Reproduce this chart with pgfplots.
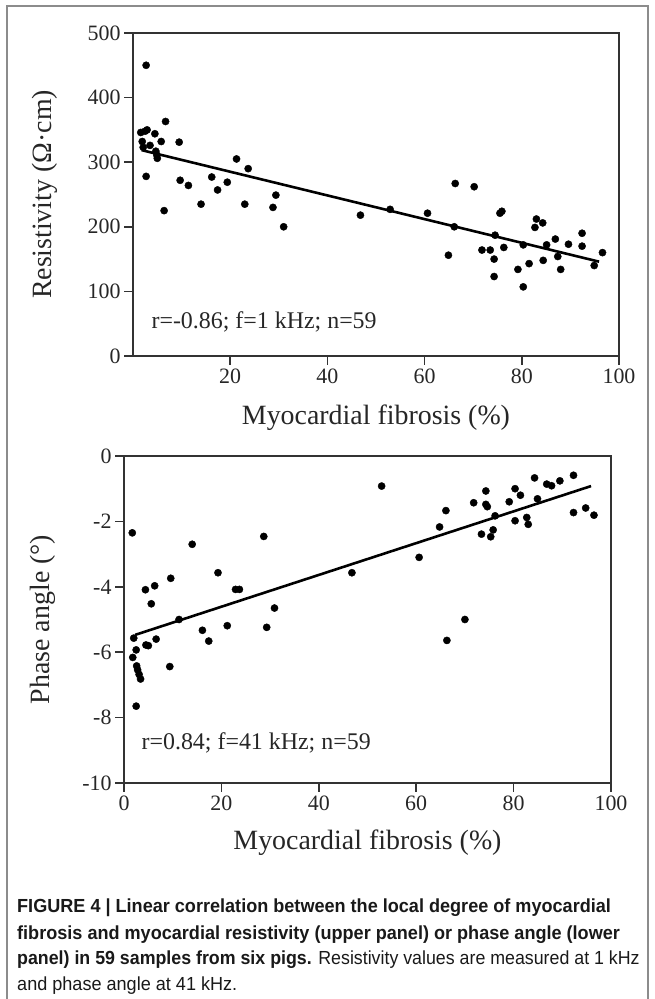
\documentclass[border=0pt]{standalone}
\usepackage{pgfplots}
\pgfplotsset{compat=1.18}
\usepackage{fontspec}
\setmainfont{Liberation Serif}
\newfontfamily\capfont[FakeStretch=0.955]{Liberation Sans}
\pgfplotstableread{
x y
2.7 450
1.6 346
2.5 348
2.9 350
4.5 344
6.7 363
1.9 332
5.8 332
9.5 331
3.5 326
2.1 323
4.7 317
4.9 311
5.0 306
2.7 278
9.7 272
11.4 264
6.4 225
14.0 235
16.2 277
17.4 257
19.4 269
21.3 305
23.7 290
23.0 235
29.4 249
28.8 230
31.0 200
46.8 218
52.9 227
60.6 221
66.3 267
70.2 262
64.9 156
66.1 200
75.5 221
75.9 224
71.8 164
73.5 164
74.5 187
76.3 168
74.3 150
74.3 123
80.3 172
79.2 134
80.3 107
81.5 143
83.0 212
84.3 206
82.7 199
84.4 148
85.1 172
86.9 181
87.4 154
88.0 134
89.6 173
92.4 190
92.4 170
94.9 140
96.6 160
}\resdata
\pgfplotstableread{
x y
1.7 -2.35
14.0 -2.70
28.7 -2.46
52.9 -0.92
9.6 -3.74
4.4 -4.09
6.3 -3.97
5.6 -4.52
19.3 -3.57
22.9 -4.08
23.7 -4.08
30.9 -4.65
46.8 -3.57
11.3 -5.0
16.1 -5.33
17.4 -5.66
21.2 -5.19
29.3 -5.24
2.0 -5.57
4.5 -5.78
5.0 -5.8
6.6 -5.6
2.5 -5.93
1.8 -6.16
2.6 -6.42
2.8 -6.54
3.1 -6.68
3.4 -6.82
2.5 -7.65
9.4 -6.44
60.6 -3.10
64.8 -2.17
66.1 -1.67
71.8 -1.43
74.3 -1.07
74.3 -1.48
74.6 -1.55
76.2 -1.83
73.4 -2.39
75.8 -2.26
75.3 -2.47
79.1 -1.40
80.3 -1.0
81.4 -1.2
80.3 -1.98
82.7 -1.88
83.0 -2.09
84.3 -0.67
84.9 -1.31
86.8 -0.86
87.8 -0.91
89.5 -0.76
92.3 -0.59
92.3 -1.73
94.8 -1.59
96.5 -1.81
70.0 -5.0
66.3 -5.64
}\phasedata
\pgfplotsset{myax/.style={
  scale only axis,
  axis line style={black!80, line width=1.5bp},
  every tick/.style={black!80, line width=1.5bp},
  major tick length=9bp,
  tick align=outside,
  tick pos=left,
  xmin=0, xmax=100,
  ticklabel style={font=\fontsize{22}{22}\selectfont, text=black!85},
  label style={font=\fontsize{28}{28}\selectfont, text=black!85},
  /pgf/number format/assume math mode=true,
  clip=false,
}}
\begin{document}
\begin{tikzpicture}[x=1bp,y=1bp]
\path[use as bounding box] (0,0) rectangle (655,999);
\draw[black!45, line width=1.2bp] (7,0) -- (7,993) -- (648,993) -- (648,0);

\begin{axis}[myax, at={(133bp,643bp)}, anchor=south west, width=486bp, height=323bp,
  ymin=0, ymax=500, ytick={0,100,...,500},
  xtick={20,40,60,80,100},
  xlabel={Myocardial fibrosis (\%)},
  ylabel={Resistivity (Ω·cm)},
  xlabel style={at={(axis description cs:0.5,-0.192)}, anchor=center},
  ylabel style={at={(axis description cs:-0.181,0.5)}, anchor=center, rotate=0},
]
\addplot[only marks, mark=*, mark size=3.6bp, black] table[x=x,y=y] {\resdata};
\addplot[black, line width=2.6bp] coordinates {(1.8,318.6) (95.9,146)};
\node[anchor=west, font=\fontsize{24}{24}\selectfont, text=black!85] at (axis cs:3.1,52) {r=-0.86; f=1 kHz; n=59};
\end{axis}

\begin{axis}[myax, at={(124bp,216bp)}, anchor=south west, width=487bp, height=327bp,
  ymin=-10, ymax=0, ytick={-10,-8,...,0},
  xtick={0,20,40,60,80,100},
  xlabel={Myocardial fibrosis (\%)},
  ylabel={Phase angle (°)},
  xlabel style={at={(axis description cs:0.5,-0.183)}, anchor=center},
  ylabel style={at={(axis description cs:-0.166,0.5)}, anchor=center, rotate=0},
]
\addplot[only marks, mark=*, mark size=3.6bp, black] table[x=x,y=y] {\phasedata};
\addplot[black, line width=2.6bp] coordinates {(2.3,-5.47) (95.9,-0.92)};
\node[anchor=west, font=\fontsize{24}{24}\selectfont, text=black!85] at (axis cs:2.9,-8.78) {r=0.84; f=41 kHz; n=59};
\end{axis}

\begin{scope}[every node/.style={anchor=base west, inner sep=0pt, font=\capfont\fontsize{19}{19}\selectfont, text=black!90}]
\node at (17,86) {\bfseries FIGURE 4 | Linear correlation between the local degree of myocardial};
\node at (17,59) {\bfseries fibrosis and myocardial resistivity (upper panel) or phase angle (lower};
\node at (17,34) {\scalebox{0.984}[1]{\textbf{panel) in 59 samples from six pigs.} Resistivity values are measured at 1 kHz}};
\node at (17,8) {and phase angle at 41 kHz.};
\end{scope}
\end{tikzpicture}
\end{document}
